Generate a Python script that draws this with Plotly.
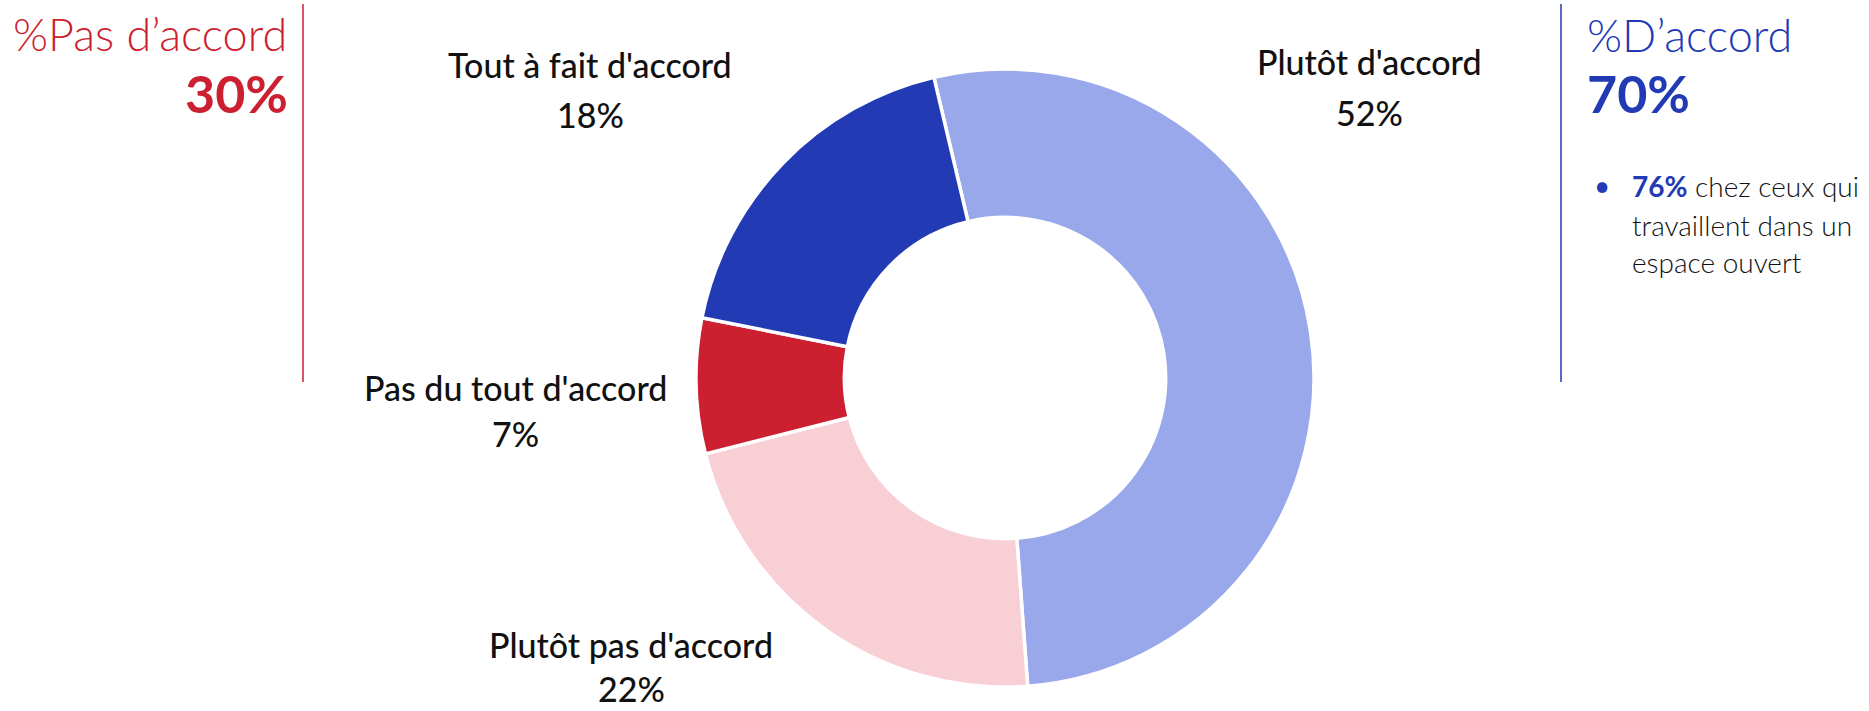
import plotly.graph_objects as go

W, H = 1869, 711

# ---- data ----
categories = ["Plutôt d'accord", "Plutôt pas d'accord", "Pas du tout d'accord", "Tout à fait d'accord"]
values = [52, 22, 7, 18]
value_labels = ["52%", "22%", "7%", "18%"]
disagree_title = "%Pas d’accord"
disagree_total = "30%"
agree_title = "%D’accord"
agree_total = "70%"
sub_value = "76%"
sub_text_lines = ["chez ceux qui", "travaillent dans un", "espace ouvert"]

# ---- styles ----
colors = ["#99A8EB", "#F7CFD4", "#CC1F30", "#223AB4"]
RED = "#CC1F30"
BLUE = "#223AB4"
FONT = "Lato"

# label layout (pixel centre x, baseline of name line, baseline of value line)
label_pos = [(1369, 75, 126), (631, 658, 702), (515, 401, 447), (590, 78, 128)]


def px(x):
    return x / W


def py(y):
    return 1 - y / H


fig = go.Figure()
cx, cy, r = 1005, 378, 309
fig.add_trace(go.Pie(
    labels=categories,
    values=values,
    sort=False,
    direction="clockwise",
    rotation=-13.3,
    hole=0.52,
    marker=dict(colors=colors, line=dict(color="white", width=3.5)),
    textinfo="none",
    hoverinfo="label+percent",
    showlegend=False,
    domain=dict(x=[px(cx - r), px(cx + r)], y=[py(cy + r), py(cy - r)]),
))

ann = []
LF = 34
for cat, val, (x, b1, b2) in zip(categories, value_labels, label_pos):
    for txt, b in ((cat, b1), (val, b2)):
        ann.append(dict(text=txt, x=px(x), y=py(b - 0.387 * LF), xref="paper", yref="paper",
                        xanchor="center", yanchor="middle", showarrow=False, borderpad=0,
                        font=dict(family=FONT, size=LF, color="#111111", weight=500)))

# left header
ann.append(dict(text=disagree_title, x=px(288), y=py(51 - 0.387 * 45), xref="paper", yref="paper",
                xanchor="right", yanchor="middle", showarrow=False, borderpad=0,
                font=dict(family=FONT, size=45, color=RED, weight=300)))
ann.append(dict(text=f"<b>{disagree_total}</b>", x=px(289), y=py(113 - 0.387 * 52), xref="paper", yref="paper",
                xanchor="right", yanchor="middle", showarrow=False, borderpad=0,
                font=dict(family=FONT, size=52, color=RED)))
# right header
ann.append(dict(text=agree_title, x=px(1586), y=py(52 - 0.387 * 45), xref="paper", yref="paper",
                xanchor="left", yanchor="middle", showarrow=False, borderpad=0,
                font=dict(family=FONT, size=45, color=BLUE, weight=300)))
ann.append(dict(text=f"<b>{agree_total}</b>", x=px(1586), y=py(113 - 0.387 * 52), xref="paper", yref="paper",
                xanchor="left", yanchor="middle", showarrow=False, borderpad=0,
                font=dict(family=FONT, size=52, color=BLUE)))
# bullet
SF = 28
ann.append(dict(text="•", x=px(1602), y=py(196 - 0.387 * SF), xref="paper", yref="paper",
                xanchor="center", yanchor="middle", showarrow=False, borderpad=0,
                font=dict(family=FONT, size=SF, color=BLUE)))
sub_bases = [197, 236, 273]
for i, (line, b) in enumerate(zip(sub_text_lines, sub_bases)):
    txt = f"<span style='color:{BLUE}'><b>{sub_value}</b></span> {line}" if i == 0 else line
    ann.append(dict(text=txt, x=px(1631), y=py(b - 0.387 * SF), xref="paper", yref="paper",
                    xanchor="left", yanchor="middle", showarrow=False, borderpad=0,
                    font=dict(family=FONT, size=SF, color="#111111", weight=300)))

shapes = [
    dict(type="line", xref="paper", yref="paper", x0=px(303), x1=px(303), y0=py(4), y1=py(382),
         line=dict(color=RED, width=1.5)),
    dict(type="line", xref="paper", yref="paper", x0=px(1561), x1=px(1561), y0=py(4), y1=py(382),
         line=dict(color=BLUE, width=1.5)),
]

fig.update_layout(
    width=W, height=H,
    margin=dict(l=0, r=0, t=0, b=0),
    paper_bgcolor="white", plot_bgcolor="white",
    annotations=ann, shapes=shapes,
    font=dict(family=FONT),
)

fig.write_html("out.html", config={"displayModeBar": False},
               post_script="document.body.style.margin='0';document.body.style.overflow='hidden';")
